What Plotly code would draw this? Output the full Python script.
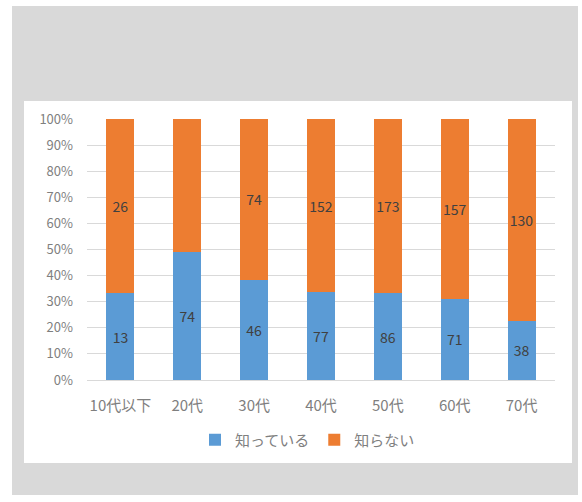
import plotly.graph_objects as go

categories = ["10代以下", "20代", "30代", "40代", "50代", "60代", "70代"]
know = [13, 74, 46, 77, 86, 71, 38]
not_know = [26, 77, 74, 152, 173, 157, 130]
series_names = ["知っている", "知らない"]
y_ticks = [0, 10, 20, 30, 40, 50, 60, 70, 80, 90, 100]
y_tick_labels = [f"{v}%" for v in y_ticks]

FONT = "Noto Sans CJK JP, Noto Sans, sans-serif"
label_font = dict(family=FONT, size=14, color="#404040")

fig = go.Figure()
fig.add_trace(go.Bar(
    x=categories, y=know, name=series_names[0],
    marker=dict(color="#5B9BD5", line=dict(width=0)),
    text=know, textposition="inside", insidetextanchor="middle",
    textangle=0, constraintext="none",
    textfont=label_font, cliponaxis=False,
))
fig.add_trace(go.Bar(
    x=categories, y=not_know, name=series_names[1],
    marker=dict(color="#ED7D31", line=dict(width=0)),
    text=not_know, textposition="inside", insidetextanchor="middle",
    textangle=0, constraintext="none",
    textfont=label_font, cliponaxis=False,
))

L, R, T, B = 87, 27, 119, 122
W, H = 582, 502
pw, ph = W - L - R, H - T - B

def px_x(x):
    return (x - L) / pw

def px_y(y):
    return (H - B - y) / ph

shapes = [
    dict(type="rect", xref="paper", yref="paper",
         x0=px_x(12), x1=px_x(578), y0=px_y(495), y1=px_y(6),
         fillcolor="#D9D9D9", line=dict(width=0), layer="below"),
    dict(type="rect", xref="paper", yref="paper",
         x0=px_x(24), x1=px_x(572), y0=px_y(463), y1=px_y(101),
         fillcolor="#FFFFFF", line=dict(width=0), layer="below"),
]

fig.update_layout(
    width=W, height=H,
    margin=dict(l=L, r=R, t=T, b=B, pad=0),
    barmode="stack", barnorm="percent", bargap=0.58,
    paper_bgcolor="#FFFFFF", plot_bgcolor="rgba(0,0,0,0)",
    font=dict(family=FONT, color="#808080"),
    shapes=shapes,
    showlegend=True,
    legend=dict(orientation="h", x=px_x(195), xanchor="left", y=px_y(440), yanchor="middle",
                traceorder="normal",
                font=dict(family=FONT, size=15, color="#7F7F7F"),
                bgcolor="rgba(0,0,0,0)"),
)
fig.update_yaxes(range=[0, 100], tickvals=y_ticks, ticktext=y_tick_labels,
                 showgrid=True, gridcolor="#D9D9D9", gridwidth=1,
                 zeroline=False, showline=False, ticks="", ticklen=0,
                 ticklabelstandoff=13,
                 tickfont=dict(family=FONT, size=13, color="#7F7F7F"))
fig.update_xaxes(showgrid=False, showline=True, linecolor="#D9D9D9", ticks="",
                 ticklabelstandoff=12,
                 tickfont=dict(family=FONT, size=15, color="#7F7F7F"))

fig.write_html("out.html", config={"displayModeBar": False},
               post_script="document.body.style.margin='0';document.body.style.padding='0';")
